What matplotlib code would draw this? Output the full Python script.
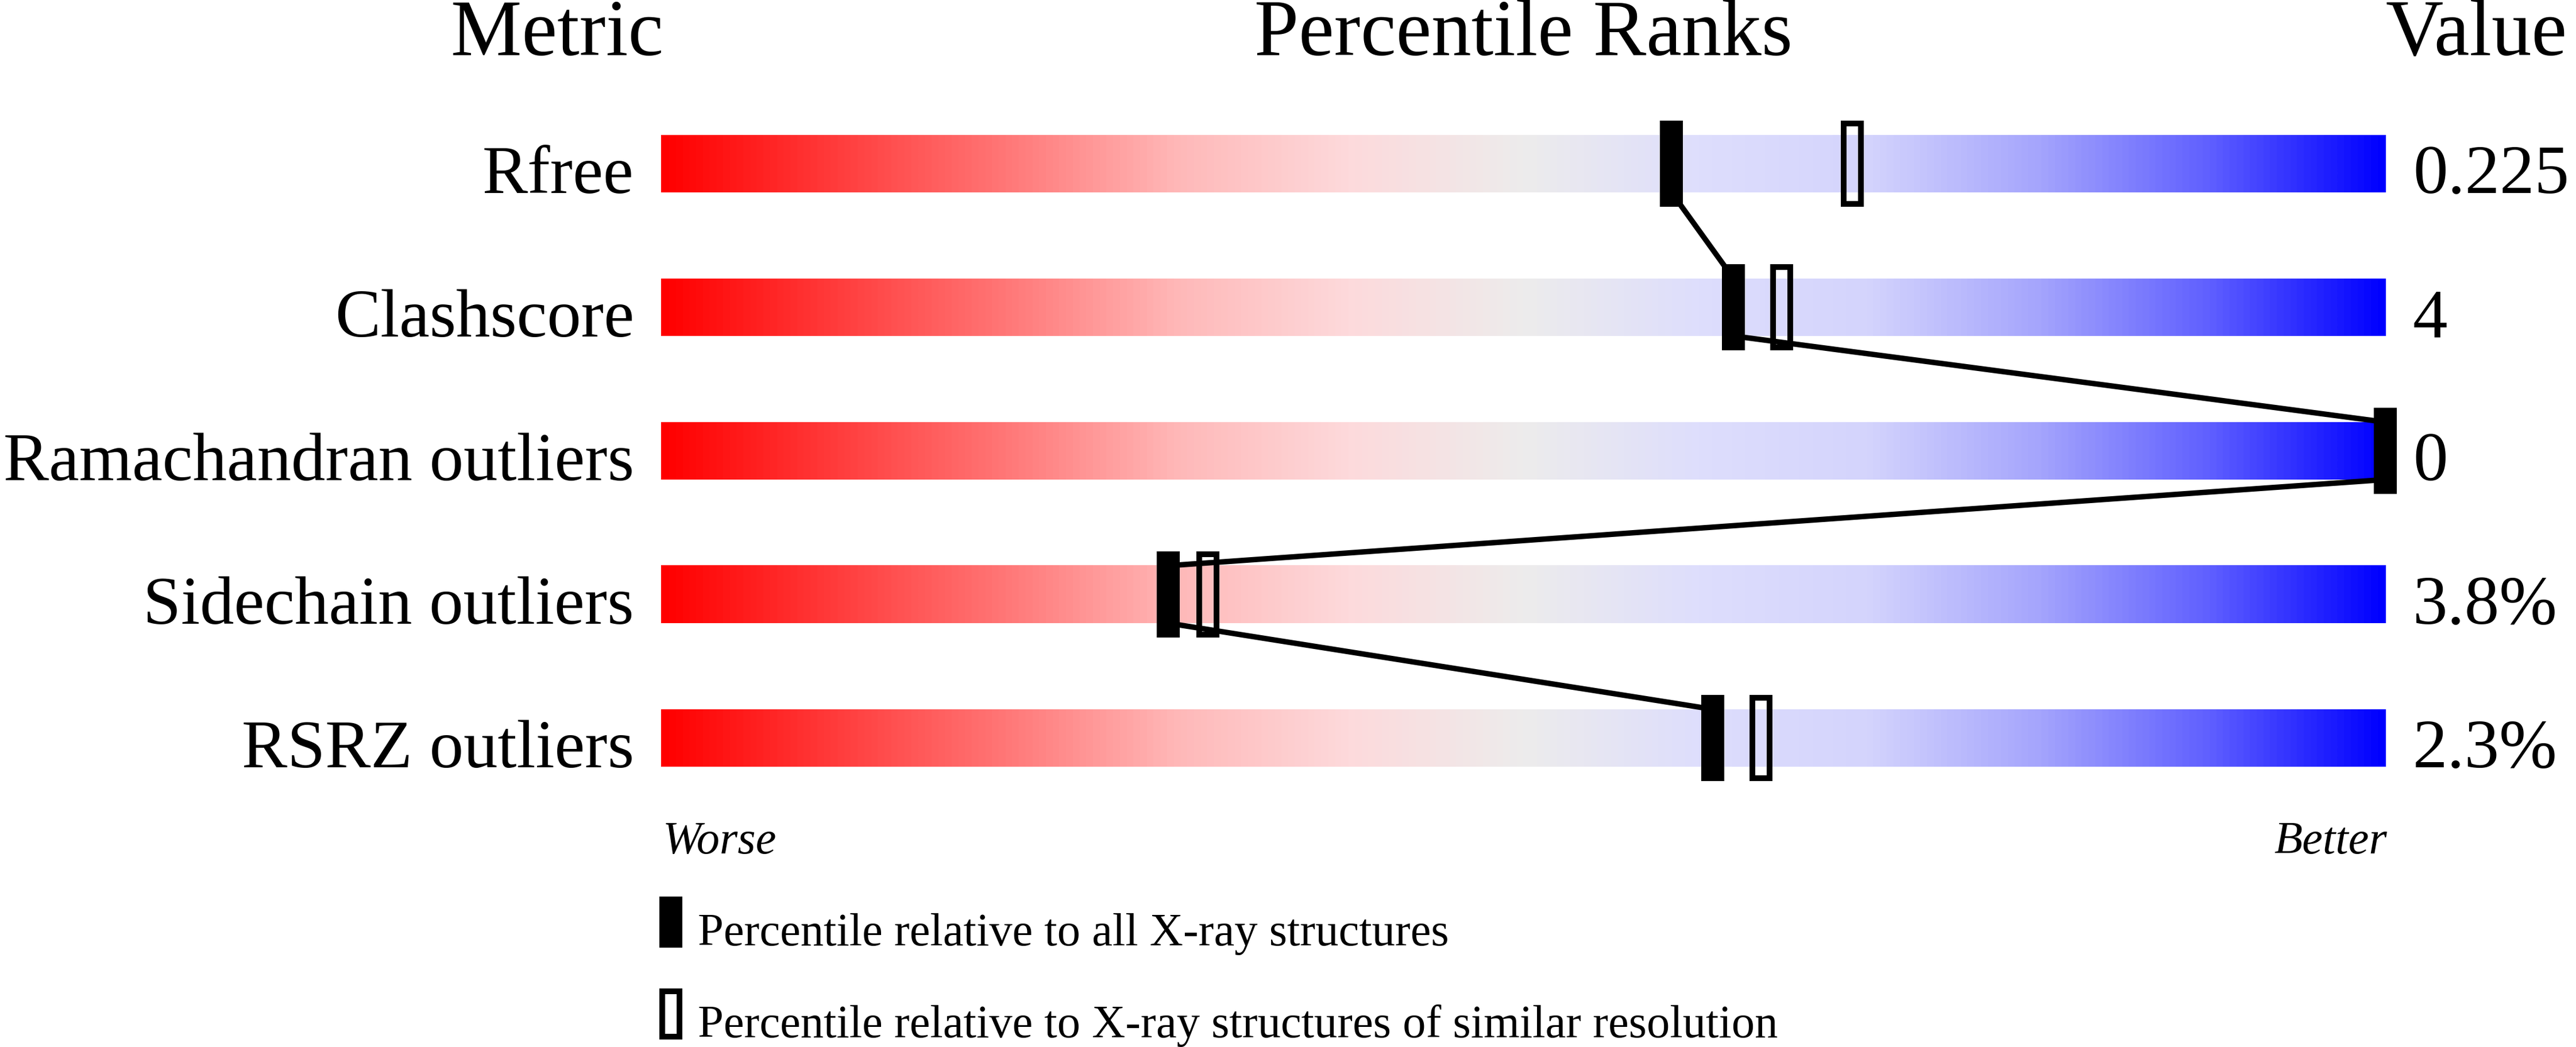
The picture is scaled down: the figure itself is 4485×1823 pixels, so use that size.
import numpy as np
import matplotlib
matplotlib.use("Agg")
import matplotlib.pyplot as plt
from matplotlib.colors import LinearSegmentedColormap
from matplotlib.patches import Rectangle

# Data
metrics = ["Rfree", "Clashscore", "Ramachandran outliers", "Sidechain outliers", "RSRZ outliers"]
values = ["0.225", "4", "0", "3.8%", "2.3%"]
pct_all = [58.6, 62.2, 100.0, 29.4, 61.0]        # filled marker: all X-ray structures
pct_similar = [69.1, 65.0, 100.0, 31.7, 63.8]    # open marker: similar resolution

plt.rcParams["font.family"] = ["Liberation Serif", "DejaVu Serif"]

# red -> grey -> blue slider
stops = [(0.0, (255, 0, 0)), (0.1, (255, 60, 60)), (0.2, (255, 120, 120)),
         (0.3, (255, 185, 185)), (0.4, (253, 218, 220)), (0.5, (237, 236, 236)),
         (0.6, (222, 222, 252)), (0.7, (212, 212, 252)), (0.8, (165, 165, 252)),
         (0.9, (95, 95, 255)), (1.0, (0, 0, 255))]
cmap = LinearSegmentedColormap.from_list(
    "slider", [(s, tuple(c / 255 for c in col)) for s, col in stops])

W, H = 4485, 1824
fig = plt.figure(figsize=(W / 100, H / 100), dpi=100)
fig.patch.set_facecolor("white")
x0, x1 = 1151, 4153
ax = fig.add_axes([x0 / W, 0, (x1 - x0) / W, 1])
row_px = 250
ax.set_xlim(0, 100)
ax.set_ylim((H - 286) / row_px, -286 / row_px)
ax.axis("off")

px = 100 / (x1 - x0)           # percentile units per pixel
mw = 40 * px                  # marker width
grad = np.linspace(0, 1, 600).reshape(1, -1)

rows = np.arange(len(metrics))
for r in rows:
    ax.imshow(grad, cmap=cmap, aspect="auto", extent=(0, 100, r + 0.2, r - 0.2),
              interpolation="bilinear", zorder=1)
    ax.add_patch(Rectangle((pct_similar[r] - mw / 2 + 5 * px, r - 0.28), mw - 10 * px, 0.56,
                           fill=False, ec="black", lw=7.2, joinstyle="miter",
                           zorder=2, clip_on=False))
    ax.add_patch(Rectangle((pct_all[r] - mw / 2, r - 0.3), mw, 0.6,
                           fc="black", ec="none", zorder=4, clip_on=False))
    ax.text(-1.57, r + 0.2, metrics[r], ha="right", va="baseline", fontsize=85.5)
    ax.text(101.6, r + 0.2, values[r], ha="left", va="baseline", fontsize=87)

# connecting line between filled markers
lx, ly = [], []
for r in rows:
    lx += [pct_all[r], pct_all[r]]
    ly += [r - 0.2, r + 0.2]
ax.plot(lx[1:-1], ly[1:-1], color="black", lw=6.8, solid_joinstyle="miter",
        zorder=3, clip_on=False)

# headers
hy = (96 - 286) / row_px
ax.text(0.13, hy, "Metric", ha="right", va="baseline", fontsize=100)
ax.text(50, hy, "Percentile Ranks", ha="center", va="baseline", fontsize=100)
ax.text(100.0, hy, "Value", ha="left", va="baseline", fontsize=100)

wy = (1486 - 286) / row_px
ax.text(0.1, wy, "Worse", ha="left", va="baseline", fontsize=58, style="italic")
ax.text(100.1, wy, "Better", ha="right", va="baseline", fontsize=58, style="italic")

# legend
ax.add_patch(Rectangle((-0.1, (1562 - 286) / row_px), mw, 89 / row_px,
                       fc="black", ec="none", clip_on=False))
ax.add_patch(Rectangle((-0.1 + 5 * px, (1727 - 286) / row_px), mw - 10 * px, 79 / row_px,
                       fill=False, ec="black", lw=7.2, joinstyle="miter", clip_on=False))
ax.text(2.13, (1646 - 286) / row_px, "Percentile relative to all X-ray structures",
        ha="left", va="baseline", fontsize=58)
ax.text(2.13, (1806 - 286) / row_px, "Percentile relative to X-ray structures of similar resolution",
        ha="left", va="baseline", fontsize=58)

for t in ax.texts:
    t.set_clip_on(False)

fig.savefig("out.png", dpi=100, facecolor="white")
